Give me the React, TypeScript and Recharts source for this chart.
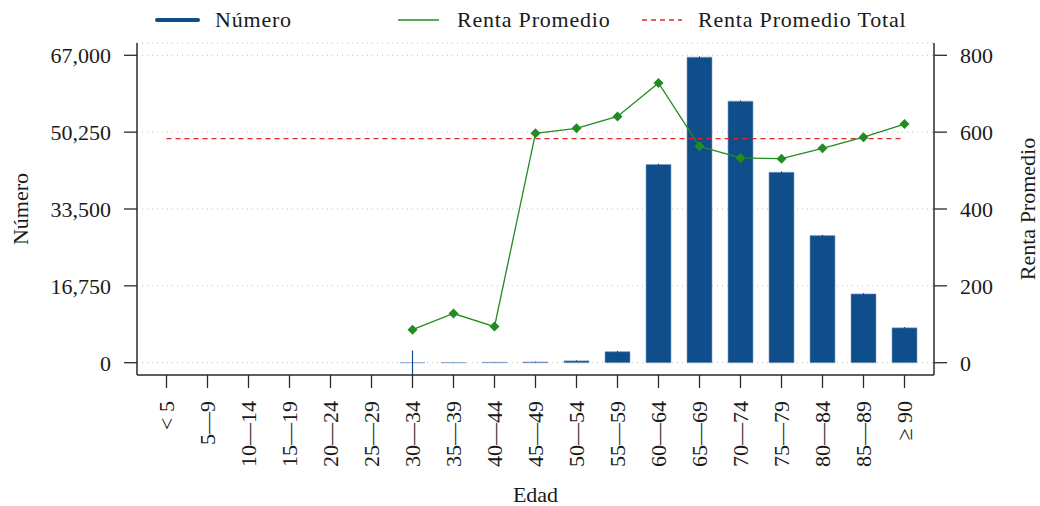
import React from 'react';
import {
  ComposedChart, Bar, Line, XAxis, YAxis, CartesianGrid, ReferenceLine, ErrorBar
} from 'recharts';

const edades = [
  '< 5', '5—9', '10—14', '15—19', '20—24', '25—29', '30—34', '35—39', '40—44', '45—49',
  '50—54', '55—59', '60—64', '65—69', '70—74', '75—79', '80—84', '85—89', '≥ 90',
];
const numero = [0, 0, 0, 0, 0, 0, 5, 30, 80, 150, 400, 2400, 43200, 66600, 57000, 41500, 27700, 15000, 7600];
const numeroErrSmall = [0, 0, 0, 0, 0, 0, 0, 40, 40, 80, 100, 150, 150, 150, 150, 150, 150, 150, 150];
const numeroErrBig = [0, 0, 0, 0, 0, 0, 2650, 0, 0, 0, 0, 0, 0, 0, 0, 0, 0, 0, 0];
const renta = [null, null, null, null, null, null, 86, 128, 94, 597, 610, 641, 728, 563, 533, 531, 558, 587, 621];
const rentaTotal = 583;

const leftTicks = [0, 16750, 33500, 50250, 67000];
const rightTicks = [0, 200, 400, 600, 800];

const COLORS = {
  bar: '#104e8b',
  barEdge: '#7d9ec4',
  green: '#228b22',
  red: '#e0262b',
  axis: '#2b2b2b',
  text: '#1a1a1a',
  grid: '#bdbdbd',
};

const FONT = 22;
const SERIF = 'Liberation Serif';

const data = edades.map((edad, i) => ({
  edad,
  numero: numero[i],
  errSmall: numeroErrSmall[i],
  errBig: numeroErrBig[i],
  renta: renta[i],
}));

const EdadTick = (props: any) => {
  const { x, y, payload } = props;
  return (
    <text
      x={x}
      y={y}
      transform={`rotate(-90 ${x} ${y})`}
      textAnchor="end"
      dy="0.35em"
      fontSize={FONT}
      fontFamily={SERIF}
      fill={COLORS.text}
    >
      {payload.value}
    </text>
  );
};

const Diamond = (props: any) => {
  const { cx, cy, index } = props;
  if (cx == null || cy == null || Number.isNaN(cy)) return <g key={`d-${index}`} />;
  const r = 5;
  return (
    <polygon
      key={`d-${index}`}
      points={`${cx},${cy - r} ${cx + r},${cy} ${cx},${cy + r} ${cx - r},${cy}`}
      fill={COLORS.green}
    />
  );
};

// vertical titles sit at viewBox.x + dx; the horizontal one is centred at y = fixedY
const axisTitle = (text: string, dx: number, fixedY: number | null) => (props: any) => {
  const { viewBox } = props;
  const rotate = fixedY == null;
  const x = rotate ? viewBox.x + dx : viewBox.x + viewBox.width / 2;
  const y = rotate ? viewBox.y + viewBox.height / 2 : (fixedY as number);
  return (
    <text
      x={x}
      y={y}
      transform={rotate ? `rotate(-90 ${x} ${y})` : undefined}
      textAnchor="middle"
      dominantBaseline="central"
      fontSize={FONT}
      fontFamily={SERIF}
      fill={COLORS.text}
    >
      {text}
    </text>
  );
};

const legendText: React.CSSProperties = {
  position: 'absolute',
  top: 8,
  lineHeight: '24px',
  fontSize: FONT,
  fontFamily: SERIF,
  color: COLORS.text,
  letterSpacing: '0.8px',
  whiteSpace: 'nowrap',
};

const ChartLegend = () => (
  <>
    <svg style={{ position: 'absolute', left: 0, top: 0 }} width={1040} height={40}>
      <line x1={157} x2={198} y1={20} y2={20} stroke={COLORS.bar} strokeWidth={4} strokeLinecap="round" />
      <line x1={398} x2={439} y1={20} y2={20} stroke={COLORS.green} strokeWidth={1.3} />
      <line x1={642} x2={682} y1={20} y2={20} stroke={COLORS.red} strokeWidth={1.3} strokeDasharray="5 4" />
    </svg>
    <span style={{ ...legendText, left: 215 }}>Número</span>
    <span style={{ ...legendText, left: 457 }}>Renta Promedio</span>
    <span style={{ ...legendText, left: 698 }}>Renta Promedio Total</span>
  </>
);

export default function App() {
  const tickStyle = { fontSize: FONT, fill: COLORS.text, fontFamily: SERIF };
  return (
    <div
      style={{
        position: 'absolute', left: 0, top: 0, width: 1040, height: 506,
        background: '#fff', fontFamily: SERIF,
      }}
    >
      <ComposedChart width={1040} height={506} data={data} margin={{ top: 43, right: 0, bottom: 0, left: 0 }}>
        <CartesianGrid yAxisId="left" xAxisId="main" vertical={false} stroke={COLORS.grid} strokeDasharray="1 4" />
        <XAxis
          xAxisId="main"
          dataKey="edad"
          interval={0}
          height={131}
          padding={{ left: 9, right: 9 }}
          tick={<EdadTick />}
          tickSize={13}
          tickMargin={13}
          axisLine={{ stroke: COLORS.axis, strokeWidth: 1.5 }}
          tickLine={{ stroke: COLORS.axis, strokeWidth: 1.3 }}
          label={{ content: axisTitle('Edad', 0, 494) as any }}
        />
        <XAxis
          xAxisId="top"
          dataKey="edad"
          orientation="top"
          height={0}
          tick={false}
          tickLine={false}
          axisLine={{ stroke: COLORS.axis, strokeWidth: 1.5 }}
        />
        <YAxis
          yAxisId="left"
          width={137}
          domain={[-2680, 69680]}
          ticks={leftTicks}
          allowDataOverflow
          interval={0}
          tickFormatter={(v: number) => v.toLocaleString('en-US')}
          tick={tickStyle}
          tickSize={13}
          tickMargin={13}
          axisLine={{ stroke: COLORS.axis, strokeWidth: 1.5 }}
          tickLine={{ stroke: COLORS.axis, strokeWidth: 1.3 }}
          label={{ content: axisTitle('Número', 20, null) as any }}
        />
        <YAxis
          yAxisId="right"
          orientation="right"
          width={106}
          domain={[-32, 832]}
          ticks={rightTicks}
          allowDataOverflow
          interval={0}
          tick={{ ...tickStyle, textAnchor: 'start' }}
          tickSize={13}
          tickMargin={13}
          axisLine={{ stroke: COLORS.axis, strokeWidth: 1.5 }}
          tickLine={{ stroke: COLORS.axis, strokeWidth: 1.3 }}
          label={{ content: axisTitle('Renta Promedio', 93, null) as any }}
        />
        <Bar
          xAxisId="main"
          yAxisId="left"
          dataKey="numero"
          barSize={25}
          fill={COLORS.bar}
          stroke={COLORS.barEdge}
          strokeWidth={0.6}
          isAnimationActive={false}
        >
          <ErrorBar dataKey="errSmall" width={0} stroke="#333" strokeWidth={1} isAnimationActive={false} />
          <ErrorBar dataKey="errBig" width={0} stroke={COLORS.bar} strokeWidth={1.2} isAnimationActive={false} />
        </Bar>
        <ReferenceLine
          xAxisId="main"
          yAxisId="right"
          segment={[{ x: edades[0], y: rentaTotal }, { x: edades[edades.length - 1], y: rentaTotal }]}
          stroke={COLORS.red}
          strokeWidth={1.3}
          strokeDasharray="5 4"
        />
        <Line
          xAxisId="main"
          yAxisId="right"
          type="linear"
          dataKey="renta"
          stroke={COLORS.green}
          strokeWidth={1.3}
          dot={<Diamond />}
          activeDot={false}
          isAnimationActive={false}
        />
      </ComposedChart>
      <ChartLegend />
    </div>
  );
}
